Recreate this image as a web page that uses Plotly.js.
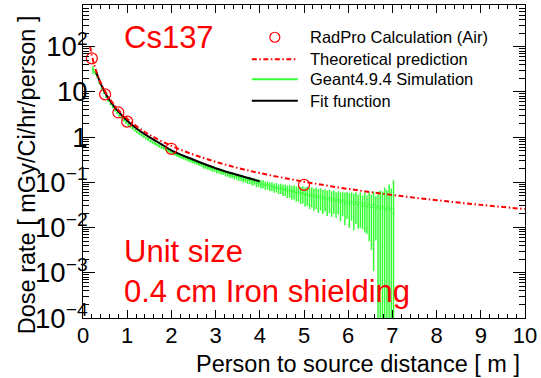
<!DOCTYPE html>
<html>
<head>
<meta charset="utf-8">
<script src="https://cdn.plot.ly/plotly-3.0.1.min.js"></script>
<style>
html, body { margin: 0; padding: 0; background: #fff; }
#chart { width: 541px; height: 378px; }
</style>
</head>
<body>
<div id="chart"></div>
<script>
// RadPro calculation in air (open circles)
const radproX = [0.2, 0.5, 0.8, 1.0, 2.0, 5.0];
const radproY = [55, 8.8, 3.5, 2.2, 0.55, 0.088];

// Theoretical prediction (dash-dot curve)
const theoryX = [0.16, 0.2, 0.25, 0.3, 0.4, 0.5, 0.6, 0.8, 1, 1.25, 1.5, 2, 2.5, 3, 3.5, 4, 5, 6, 7, 8, 9, 10];
const theoryY = [100, 64, 41, 28.3, 15.9, 10.2, 7.1, 4.0, 2.55, 1.63, 1.13, 0.64, 0.41, 0.284, 0.208, 0.16, 0.103, 0.0715, 0.0525, 0.0402, 0.0317, 0.0256];

// Fit function (solid black)
const fitX = [0.3, 0.4, 0.5, 0.6, 0.7, 0.8, 1.0, 1.25, 1.5, 1.75, 2.0, 2.5, 3.0, 3.5, 4.0];
const fitY = [27, 15.2, 9.6, 6.6, 4.8, 3.65, 2.3, 1.45, 1.0, 0.72, 0.51, 0.315, 0.205, 0.145, 0.105];

// Geant4.9.4 simulation histogram: first bin centre, bin width [m], contents and errors
const simStart = 0.225;
const simBinWidth = 0.05;
const simY = [
  31, 27.5, 21.8, 15.7, 11.9, 9.5, 7.7, 6.35, 5.35, 4.58,
  3.92, 3.41, 3.01, 2.64, 2.36, 2.11, 1.90, 1.72, 1.56, 1.42,
  1.30, 1.20, 1.11, 1.025, 0.950, 0.885, 0.825, 0.772, 0.723, 0.679,
  0.638, 0.600, 0.566, 0.534, 0.506, 0.479, 0.448, 0.425, 0.405, 0.386,
  0.366, 0.351, 0.335, 0.322, 0.306, 0.295, 0.281, 0.272, 0.258, 0.252,
  0.229, 0.225, 0.213, 0.209, 0.197, 0.195, 0.183, 0.181, 0.170, 0.168,
  0.158, 0.156, 0.146, 0.145, 0.136, 0.136, 0.127, 0.127, 0.119, 0.118,
  0.111, 0.112, 0.104, 0.105, 0.097, 0.098, 0.0915, 0.0925, 0.0860, 0.0870,
  0.0812, 0.0820, 0.0765, 0.0778, 0.0722, 0.0738, 0.0688, 0.0700, 0.0650, 0.0668,
  0.0620, 0.0638, 0.0590, 0.0605, 0.0560, 0.0578, 0.0532, 0.0552, 0.0505, 0.0528,
  0.0482, 0.0506, 0.0460, 0.0486, 0.0440, 0.0466, 0.0420, 0.0448, 0.0402, 0.0430,
  0.0385, 0.0415, 0.0368, 0.0398, 0.0352, 0.0384, 0.0338, 0.0372, 0.0326, 0.0360,
  0.0314, 0.0348, 0.0302, 0.0338, 0.0292, 0.0328, 0.0282, 0.0318, 0.0272, 0.0300,
  0.0262, 0.0290, 0.0250, 0.0275, 0.0240, 0.0262, 0.0205
];
const simErr = [
  6.0, 4.0, 1.6, 1.0, 0.68, 0.52, 0.42, 0.35, 0.30, 0.26,
  0.23, 0.205, 0.185, 0.165, 0.150, 0.136, 0.124, 0.114, 0.104, 0.096,
  0.089, 0.083, 0.078, 0.073, 0.068, 0.064, 0.061, 0.058, 0.055, 0.052,
  0.050, 0.048, 0.046, 0.044, 0.042, 0.041, 0.040, 0.038, 0.037, 0.036,
  0.035, 0.034, 0.033, 0.032, 0.031, 0.031, 0.030, 0.029, 0.029, 0.028,
  0.028, 0.027, 0.027, 0.026, 0.026, 0.025, 0.025, 0.024, 0.024, 0.023,
  0.023, 0.023, 0.022, 0.022, 0.022, 0.021, 0.021, 0.021, 0.020, 0.020,
  0.020, 0.020, 0.019, 0.019, 0.019, 0.019, 0.019, 0.019, 0.018, 0.018,
  0.018, 0.018, 0.018, 0.018, 0.018, 0.019, 0.019, 0.020, 0.020, 0.021,
  0.021, 0.022, 0.022, 0.023, 0.023, 0.024, 0.024, 0.025, 0.025, 0.025,
  0.025, 0.025, 0.025, 0.025, 0.024, 0.024, 0.024, 0.024, 0.023, 0.023,
  0.022, 0.022, 0.023, 0.022, 0.024, 0.023, 0.024, 0.023, 0.024, 0.024,
  0.022, 0.025, 0.021, 0.026, 0.022, 0.0278, 0.025, 0.0307, 0.022, 0.032,
  0.040, 0.034, 0.052, 0.040, 0.065, 0.048, 0.090
];

// Legend entries and captions
const legendLabels = ['RadPro Calculation (Air)', 'Theoretical prediction', 'Geant4.9.4 Simulation', 'Fit function'];
const isotope = 'Cs137';
const setupLines = ['Unit size', '0.4 cm Iron shielding'];

const FONT = '"Liberation Sans", Arial, Helvetica, sans-serif';
const RED = '#ff0000';
const GREEN = '#33ff33';
const THEORY_DASH = '5px,2.5px,1.5px,2.5px';

const traces = [
  {
    type: 'scatter', mode: 'markers',
    x0: simStart, dx: simBinWidth, y: simY,
    marker: { size: 1, color: 'rgba(0,0,0,0)' },
    error_y: { type: 'data', array: simErr, visible: true, color: GREEN, thickness: 1.5, width: 0 },
    error_x: { type: 'constant', value: simBinWidth / 2, visible: true, color: GREEN, thickness: 1.5, width: 0 },
    hoverinfo: 'skip'
  },
  {
    type: 'scatter', mode: 'lines', x: fitX, y: fitY,
    line: { color: '#000', width: 2, shape: 'spline' }
  },
  {
    type: 'scatter', mode: 'lines', x: theoryX, y: theoryY,
    line: { color: RED, width: 2, dash: THEORY_DASH, shape: 'spline' }
  },
  {
    type: 'scatter', mode: 'markers', x: radproX, y: radproY,
    marker: { symbol: 'circle-open', size: 11, color: RED, line: { width: 1.2, color: RED } }
  }
];

// Hand-built legend box in paper coordinates
const legX0 = 0.382, legX1 = 0.486, legTextX = 0.508;
const legRows = [0.897, 0.827, 0.763, 0.694];

const shapes = [
  { type: 'circle', xref: 'paper', yref: 'paper', xsizemode: 'pixel', ysizemode: 'pixel',
    xanchor: (legX0 + legX1) / 2, yanchor: legRows[0], x0: -5, x1: 5, y0: -5, y1: 5,
    line: { color: RED, width: 1.2 } },
  { type: 'line', xref: 'paper', yref: 'paper', x0: legX0, x1: legX1, y0: legRows[1], y1: legRows[1],
    line: { color: RED, width: 2, dash: THEORY_DASH } },
  { type: 'line', xref: 'paper', yref: 'paper', x0: legX0, x1: legX1, y0: legRows[2], y1: legRows[2],
    line: { color: GREEN, width: 2 } },
  { type: 'line', xref: 'paper', yref: 'paper', x0: legX0, x1: legX1, y0: legRows[3], y1: legRows[3],
    line: { color: '#000', width: 2 } }
];

const annotations = legendLabels.map((t, i) => ({
  xref: 'paper', yref: 'paper', x: legTextX, y: legRows[i], xanchor: 'left', yanchor: 'middle',
  text: t, showarrow: false, font: { family: FONT, size: 16.5, color: '#000' }
}));

annotations.push(
  { xref: 'paper', yref: 'paper', x: 0.088, y: 0.895, xanchor: 'left', yanchor: 'middle',
    text: isotope, showarrow: false, font: { family: FONT, size: 31, color: RED } },
  { xref: 'paper', yref: 'paper', x: 0.088, y: 0.214, xanchor: 'left', yanchor: 'middle',
    text: setupLines[0], showarrow: false, font: { family: FONT, size: 31, color: RED } },
  { xref: 'paper', yref: 'paper', x: 0.088, y: 0.084, xanchor: 'left', yanchor: 'middle',
    text: setupLines[1], showarrow: false, font: { family: FONT, size: 31, color: RED } },
  // axis titles, aligned to the far end of each axis
  { xref: 'paper', yref: 'paper', x: 0.99, y: -0.148, xanchor: 'right', yanchor: 'middle', borderpad: 0,
    text: 'Person to source distance [ m ]', showarrow: false, font: { family: FONT, size: 23.5, color: '#000' } },
  { xref: 'paper', yref: 'paper', x: -0.127, y: 0.975, xanchor: 'center', yanchor: 'top', textangle: -90,
    text: 'Dose rate [ mGy/Ci/hr/person ]', showarrow: false, font: { family: FONT, size: 23.5, color: '#000' } }
);

const layout = {
  width: 541, height: 378,
  margin: { l: 83, r: 16, t: 5, b: 60, pad: 0 },
  paper_bgcolor: '#fff', plot_bgcolor: '#fff',
  showlegend: false,
  font: { family: FONT, color: '#000' },
  xaxis: {
    range: [0, 10], tick0: 0, dtick: 1,
    ticks: 'inside', ticklen: 8, tickwidth: 1, tickcolor: '#000',
    minor: { dtick: 0.2, ticks: 'inside', ticklen: 4, tickwidth: 1, tickcolor: '#000', showgrid: false },
    showline: true, linecolor: '#000', linewidth: 1, mirror: 'allticks',
    showgrid: false, zeroline: false, ticklabelstandoff: -2,
    tickfont: { family: FONT, size: 22, color: '#000' }
  },
  yaxis: {
    type: 'log', range: [-4, 2.92], dtick: 1, exponentformat: 'power',
    ticks: 'inside', ticklen: 12, tickwidth: 1, tickcolor: '#000',
    minor: { dtick: 'D1', ticks: 'inside', ticklen: 6, tickwidth: 1, tickcolor: '#000', showgrid: false },
    showline: true, linecolor: '#000', linewidth: 1, mirror: 'allticks',
    showgrid: false, zeroline: false, ticklabelstandoff: -10,
    tickfont: { family: FONT, size: 22, color: '#000' }
  },
  shapes: shapes,
  annotations: annotations
};

Plotly.newPlot('chart', traces, layout, { staticPlot: true, displayModeBar: false });
</script>
</body>
</html>
